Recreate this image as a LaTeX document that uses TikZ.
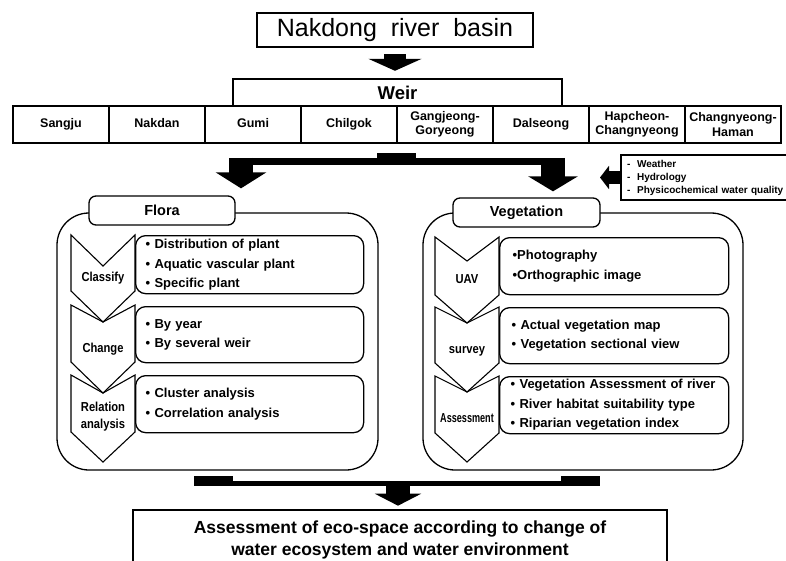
\documentclass[tikz,border=0pt]{standalone}
\usepackage{fontspec}
\setmainfont{Liberation Sans}
\newfontfamily\narrowfont[FakeStretch=0.86]{Liberation Sans}
\newfontfamily\tightfont[FakeStretch=0.7]{Liberation Sans}
\usetikzlibrary{arrows.meta}

\begin{document}
\begin{tikzpicture}[x=1pt, y=-1pt,
        weircell/.style={draw, line width=2.4pt, minimum width=96pt, minimum height=37pt, inner sep=0pt, align=center, font=\bfseries\fontsize{12.5}{14.5}\selectfont},
        onecell/.style={weircell, text height=9pt, text depth=2.6pt},
        panel/.style={draw, line width=1.3pt, rounded corners=32pt, inner sep=0pt},
        tab/.style={draw, fill=white, line width=1.3pt, rounded corners=7pt, inner sep=0pt, font=\bfseries\fontsize{14.5}{17}\selectfont},
        itembox/.style={draw, line width=1.3pt, rounded corners=10pt, anchor=north west, align=left, inner xsep=10pt, inner ysep=0pt, font=\bfseries\fontsize{13}{19.5}\selectfont},
        chev/.style={draw, line width=1.1pt, line join=miter},
        chevlabel/.style={align=center, inner sep=0pt, font=\narrowfont\bfseries\fontsize{13}{17}\selectfont},
        fatarrow/.style={line width=24pt, -{Triangle[width=50pt, length=16pt]}},
        bar/.style={line width=7pt}]
        \clip (0,0) rectangle (786,561);
        % top boxes
        \node[draw, line width=2.6pt, minimum width=276pt, minimum height=34pt, inner sep=0pt, font=\fontsize{25}{28}\selectfont] (basin) at (395,30) {Nakdong\ \ river\ \ basin};
        \node[draw, line width=2.4pt, minimum width=329pt, minimum height=27pt, inner sep=0pt, font=\bfseries\fontsize{18.5}{21}\selectfont] (weir) at (397.5,92.5) {Weir};
        \node[onecell] (sangju) at (61,124.5) {Sangju};
        \node[onecell] (nakdan) at (157,124.5) {Nakdan};
        \node[onecell] (gumi) at (253,124.5) {Gumi};
        \node[onecell] (chilgok) at (349,124.5) {Chilgok};
        \node[weircell] (gangjeong) at (445,124.5) {Gangjeong-\\Goryeong};
        \node[onecell] (dalseong) at (541,124.5) {Dalseong};
        \node[weircell] (hapcheon) at (637,124.5) {Hapcheon-\\Changnyeong};
        \node[weircell] (changnyeong) at (733,124.5) {Changnyeong-\\Haman};
        \draw[line width=22pt, -{Triangle[width=53pt, length=12pt]}, shorten <=6pt, shorten >=7pt] (basin.south) -- (basin.south |- weir.north);
        % factors
        \node[draw, line width=2.2pt, minimum width=180pt, minimum height=45pt, anchor=west, align=left, text width=168pt, inner xsep=6pt, font=\bfseries\fontsize{10}{13}\selectfont] (factors) at (620,177.5) {-\ \ Weather\\-\ \ Hydrology\\-\ \ Physicochemical water quality};
        \coordinate (factortip) at (600,177.5);
        \draw[line width=13pt, -{Triangle[width=23pt, length=9pt]}] (factors.west) -- (factortip);
        % panels
        \node[panel, minimum width=321pt, minimum height=257pt] (florapanel) at (217.5,341.5) {};
        \node[panel, minimum width=320pt, minimum height=257pt] (vegpanel) at (583,341.5) {};
        \node[tab, minimum width=146pt, minimum height=29pt] (flora) at (162,210.5) {Flora};
        \node[tab, minimum width=147pt, minimum height=29pt] (veg) at (526.5,212.5) {Vegetation};
        % fork arrows
        \coordinate (forkL) at (241,158);
        \coordinate (forkR) at (553,158);
        \fill (377,153) rectangle (416,165);
        \draw[bar] (229,161.5) -- (565,161.5);
        \draw[fatarrow, shorten >=7pt] (forkL) -- (forkL |- flora.north);
        \draw[fatarrow, -{Triangle[width=49pt, length=15pt]}, shorten >=6pt] (forkR) -- (forkR |- veg.north);
        % flora rows
        \node[itembox, text width=208pt, minimum height=58pt] (classifybox) at (135,235) {• Distribution of plant\\• Aquatic vascular plant\\• Specific plant};
        \node[itembox, text width=208pt, minimum height=56pt] (changebox) at (135,306) {• By year\\• By several weir};
        \node[itembox, text width=208pt, minimum height=57pt] (relationbox) at (135,375) {• Cluster analysis\\• Correlation analysis};
        \draw[chev] (71,235) -- (103,266) -- (135,235) -- (135,291) -- (103,322) -- (71,291) -- cycle;
        \draw[chev] (71,305) -- (103,322) -- (135,305) -- (135,362) -- (103,393) -- (71,362) -- cycle;
        \draw[chev] (71,375) -- (103,393) -- (135,375) -- (135,432) -- (103,462) -- (71,432) -- cycle;
        \node[chevlabel] (classify) at (103,278) {Classify};
        \node[chevlabel] (change) at (103,349) {Change};
        \node[chevlabel] (relation) at (103,417) {Relation\\analysis};
        % vegetation rows
        \node[itembox, text width=203pt, inner xsep=13pt, minimum height=57pt] (uavbox) at (499,237) {•Photography\\•Orthographic image};
        \node[itembox, text width=205pt, inner xsep=12pt, minimum height=56pt] (surveybox) at (499,307) {• Actual vegetation map\\• Vegetation sectional view};
        \node[itembox, text width=207pt, inner xsep=11pt, minimum height=57pt] (assessbox) at (499,376) {• Vegetation Assessment of river\\• River habitat suitability type\\• Riparian vegetation index};
        \draw[chev] (435,237) -- (467,261) -- (499,237) -- (499,295) -- (467,323) -- (435,295) -- cycle;
        \draw[chev] (435,307) -- (467,323) -- (499,307) -- (499,363) -- (467,392) -- (435,363) -- cycle;
        \draw[chev] (435,376) -- (467,392) -- (499,376) -- (499,433) -- (467,462) -- (435,433) -- cycle;
        \node[chevlabel] (uav) at (467,279) {UAV};
        \node[chevlabel] (survey) at (467,351) {survey};
        \node[chevlabel, font=\tightfont\bfseries\fontsize{13}{17}\selectfont] (assess) at (467,418) {Assessment};
        % result
        \node[draw, line width=2.6pt, minimum width=534pt, minimum height=60pt, align=center, inner sep=0pt, font=\bfseries\fontsize{17.5}{22}\selectfont] (result) at (400,540) {Assessment of eco-space according to change of\\water ecosystem and water environment};
        \coordinate (merge) at (398,483);
        \fill (194,476) rectangle (233,486);
        \fill (561,476) rectangle (600,486);
        \draw[line width=5pt] (194,483.5) -- (600,483.5);
        \draw[line width=24pt, -{Triangle[width=46pt, length=12pt]}, shorten >=3pt] (merge) -- (merge |- result.north);
\end{tikzpicture}
\end{document}
